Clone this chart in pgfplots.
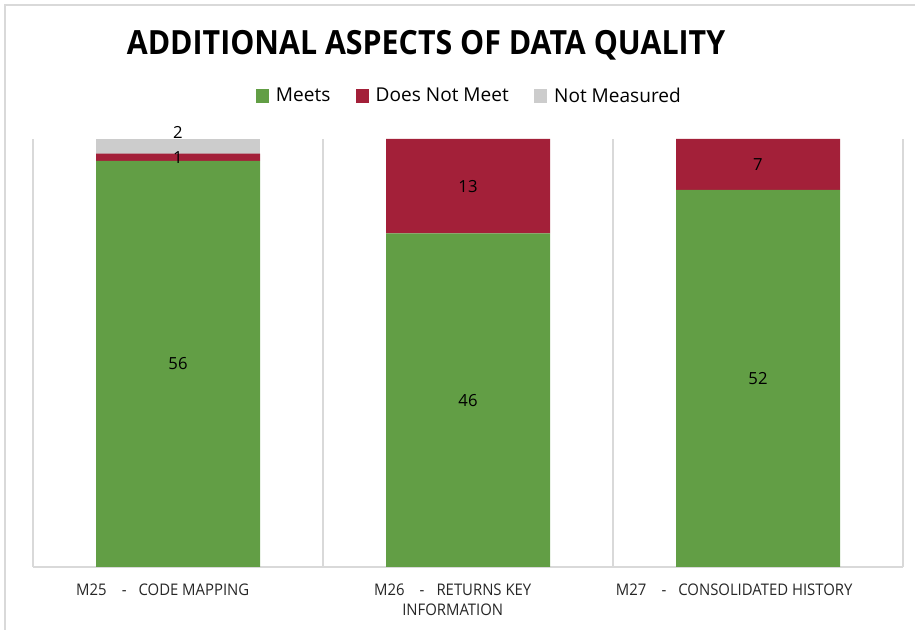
\documentclass[border=0pt]{standalone}
\usepackage{pgfplots}
\pgfplotsset{compat=1.18}
\usepackage{fontspec}
\setmainfont{Open Sans}
\newfontfamily\titlefont{Open Sans}[FakeStretch=0.91]
\newfontfamily\narrowfont{Open Sans}[FakeStretch=0.93]
\definecolor{meets}{HTML}{629E45}
\definecolor{notmeet}{HTML}{A32039}
\definecolor{notmeas}{HTML}{CCCCCC}
\definecolor{gridc}{HTML}{D9D9D9}
\begin{document}
\begin{tikzpicture}[x=0.75pt,y=-0.75pt]
% px based frame: 915 x 630
\useasboundingbox (0,0) rectangle (915,630);
\draw[gridc, line width=1.2pt] (5,630) -- (5,5) -- (915,5);
\node[font=\titlefont\fontsize{25}{30}\selectfont\bfseries] at (426,45.5) {ADDITIONAL ASPECTS OF DATA QUALITY};

\begin{axis}[
  at={(24.75pt,-425.25pt)}, anchor=south west,
  width=652.5pt, height=321pt, scale only axis,
  ybar stacked, bar width=123pt,
  xmin=-0.5, xmax=2.5, ymin=0, ymax=59,
  axis y line=none, axis x line*=bottom,
  x axis line style={gridc, line width=1.2pt},
  xtick={0,1,2}, major tick length=0pt,
  minor xtick={-0.5,0.5,1.5,2.5}, minor tick length=0pt,
  xminorgrids, minor grid style={gridc, line width=1.2pt},
  xticklabels={
    {M25\hspace{0.95em}-\hspace{0.75em}CODE MAPPING},
    {M26\hspace{0.95em}-\hspace{0.75em}RETURNS KEY\\INFORMATION},
    {M27\hspace{0.95em}-\hspace{0.75em}CONSOLIDATED HISTORY\hspace*{12.8pt}}},
  xticklabel style={align=center, font=\narrowfont\fontsize{12}{15}\selectfont, text=black!85,
    yshift=-9pt, xshift=-11.5pt},
  legend style={at={(0.502,1.1005)}, anchor=center, draw=none, legend columns=3,
    font=\fontsize{14.3}{16}\selectfont,
    /tikz/every odd column/.append style={column sep=3pt},
    /tikz/every even column/.append style={column sep=17pt}},
  legend image code/.code={\fill[#1] (0pt,-5pt) rectangle (10pt,5pt);},
  /pgf/number format/assume math mode=true,
  nodes near coords={\pgfmathfloatifflags{\pgfplotspointmeta}{0}{}{\pgfmathprintnumber{\pgfplotspointmeta}}},
  every node near coord/.append style={anchor=center, font=\fontsize{12.5}{14}\selectfont, text=black},
]
\addplot[fill=meets, draw=none] coordinates {(0,56) (1,46) (2,52)};
\addlegendentry{Meets}
\addplot[fill=notmeet, draw=none] coordinates {(0,1) (1,13) (2,7)};
\addlegendentry{Does Not Meet}
\addplot[fill=notmeas, draw=none, every node near coord/.append style={yshift=10.5pt}] coordinates {(0,2) (1,0) (2,0)};
\addlegendentry{Not Measured}
\end{axis}
\end{tikzpicture}
\end{document}
